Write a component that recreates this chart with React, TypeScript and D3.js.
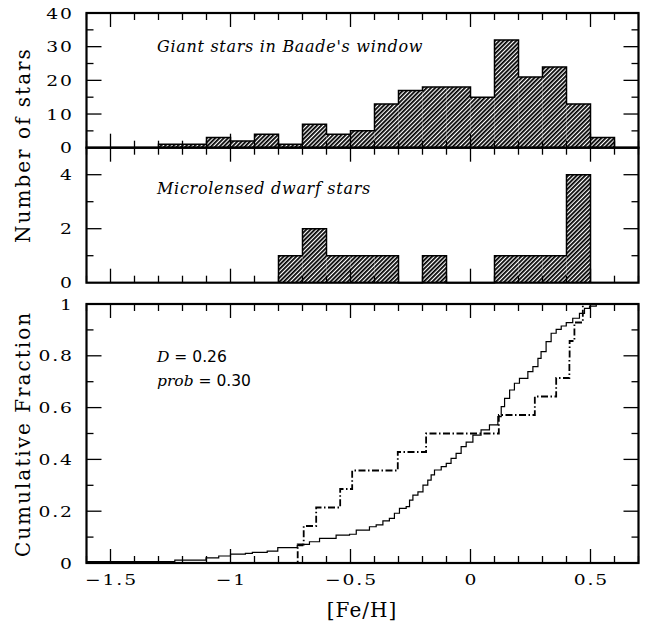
import React, { useRef, useEffect } from "react";
import * as d3 from "d3";

// giant stars, histogram in 0.1 dex bins (left edges)
const giantBins = [-1.3, -1.2, -1.1, -1.0, -0.9, -0.8, -0.7, -0.6, -0.5, -0.4, -0.3, -0.2, -0.1, 0.0, 0.1, 0.2, 0.3, 0.4, 0.5];
const giantCounts = [1, 1, 3, 2, 4, 1, 7, 4, 5, 13, 17, 18, 18, 15, 32, 21, 24, 13, 3];

// microlensed dwarfs
const dwarfBins = [-0.8, -0.7, -0.6, -0.5, -0.4, -0.3, -0.2, -0.1, 0.0, 0.1, 0.2, 0.3, 0.4];
const dwarfCounts = [1, 2, 1, 1, 1, 0, 1, 0, 0, 1, 1, 1, 4];
const dwarfFeH = [-0.72, -0.695, -0.643, -0.543, -0.493, -0.303, -0.185, 0.118, 0.268, 0.357, 0.412, 0.413, 0.433, 0.468];

// cumulative curve of the giants
const giantCdfFeH = [
  -1.6, -1.232, -1.102, -1.049, -1.0, -0.938, -0.909, -0.847, -0.803, -0.722, -0.699, -0.671, -0.629,
  -0.56, -0.504, -0.476, -0.421, -0.393, -0.365, -0.338, -0.317, -0.296, -0.268, -0.254, -0.24, -0.219,
  -0.198, -0.178, -0.164, -0.15, -0.122, -0.101, -0.081, -0.06, -0.039, -0.018, 0.01, 0.044, 0.079,
  0.114, 0.128, 0.142, 0.163, 0.183, 0.204, 0.239, 0.26, 0.281, 0.294, 0.315, 0.336, 0.357, 0.378,
  0.399, 0.426, 0.454, 0.475, 0.496, 0.524, 0.55, 0.6,
];
const giantCdfFrac = [
  0.005, 0.011, 0.02, 0.027, 0.034, 0.037, 0.041, 0.046, 0.059, 0.067, 0.072, 0.082, 0.095,
  0.108, 0.111, 0.127, 0.14, 0.147, 0.163, 0.172, 0.192, 0.211, 0.218, 0.243, 0.262, 0.275,
  0.301, 0.32, 0.34, 0.359, 0.372, 0.385, 0.404, 0.423, 0.449, 0.467, 0.494, 0.514, 0.533,
  0.565, 0.604, 0.636, 0.668, 0.694, 0.713, 0.739, 0.758, 0.79, 0.816, 0.855, 0.887, 0.902, 0.915,
  0.928, 0.945, 0.964, 0.983, 0.992, 0.998, 1.0, 1.0,
];

const xTicks = [-1.5, -1, -0.5, 0, 0.5];
const xTickLabels = ["−1.5", "−1", "−0.5", "0", "0.5"];
const countTicks = [0, 10, 20, 30, 40];
const dwarfTicks = [0, 2, 4];
const fracTicks = [0, 0.2, 0.4, 0.6, 0.8, 1];
const fracTickLabels = ["0", "0.2", "0.4", "0.6", "0.8", "1"];

const W = 653;
const H = 626;
const SERIF = "'DejaVu Serif', serif";
const LS = 1.5; // tick label letter spacing
const SX = 1.25; // tick labels are drawn wide

const App = () => {
  const svgRef = useRef<SVGSVGElement>(null);

  useEffect(() => {
    const svg = d3.select(svgRef.current);
    svg.selectAll("*").remove();

    const x = d3.scaleLinear().domain([-1.6, 0.7]).range([86.5, 638.5]);
    const yTop = d3.scaleLinear().domain([0, 40]).range([147.7, 13]);
    const yMid = d3.scaleLinear().domain([0, 5]).range([282.7, 147.7]);
    const yBot = d3.scaleLinear().domain([0, 1]).range([563, 304]);

    const defs = svg.append("defs");
    const pat = defs
      .append("pattern")
      .attr("id", "hatch")
      .attr("patternUnits", "userSpaceOnUse")
      .attr("width", 3)
      .attr("height", 3)
      .attr("patternTransform", "rotate(45)");
    pat.append("rect").attr("width", 3).attr("height", 3).attr("fill", "#fff");
    pat.append("line").attr("x1", 0.9).attr("y1", 0).attr("x2", 0.9).attr("y2", 3)
      .attr("stroke", "#000").attr("stroke-width", 1.8);

    const drawHist = (lefts: number[], counts: number[], y: d3.ScaleLinear<number, number>) => {
      const g = svg.append("g");
      g.selectAll("rect")
        .data(counts)
        .enter()
        .append("rect")
        .attr("x", (d, i) => x(lefts[i]))
        .attr("width", (d, i) => x(lefts[i] + 0.1) - x(lefts[i]))
        .attr("y", (d) => y(d))
        .attr("height", (d) => y(0) - y(d))
        .attr("fill", "url(#hatch)");
      const pts: [number, number][] = [[lefts[0], 0]];
      counts.forEach((c, i) => pts.push([lefts[i], c]));
      pts.push([lefts[lefts.length - 1] + 0.1, 0]);
      const line = d3
        .line<[number, number]>()
        .x((d) => x(d[0]))
        .y((d) => y(d[1]))
        .curve(d3.curveStepAfter);
      g.append("path")
        .attr("d", line(pts))
        .attr("fill", "none")
        .attr("stroke", "#000")
        .attr("stroke-width", 1.5);
    };

    drawHist(giantBins, giantCounts, yTop);
    drawHist(dwarfBins, dwarfCounts, yMid);

    // cumulative curves
    const cdfLine = d3
      .line<[number, number]>()
      .x((d) => x(d[0]))
      .y((d) => yBot(d[1]))
      .curve(d3.curveStepAfter);
    const giantPts = giantCdfFeH.map((v, i) => [v, giantCdfFrac[i]] as [number, number]);
    svg.append("path")
      .attr("d", cdfLine(giantPts))
      .attr("fill", "none")
      .attr("stroke", "#000")
      .attr("stroke-width", 1.2);

    const n = dwarfFeH.length;
    const dwarfPts: [number, number][] = [[-1.6, 0]];
    dwarfFeH.forEach((v, i) => dwarfPts.push([v, (i + 1) / n]));
    svg.append("path")
      .attr("d", cdfLine(dwarfPts))
      .attr("fill", "none")
      .attr("stroke", "#000")
      .attr("stroke-width", 1.8)
      .attr("stroke-dasharray", "7,2.5,1.5,2.5");

    // frames + ticks
    const xMinor = d3.range(-16, 8).map((i) => i / 10);
    const panel = (
      y: d3.ScaleLinear<number, number>,
      yMinor: number[],
      yMajor: number[]
    ) => {
      const g = svg.append("g").attr("stroke", "#000");
      const [y0, y1] = y.range();
      const [xa, xb] = x.range();
      xMinor.forEach((v) => {
        const major = xTicks.some((t) => Math.abs(t - v) < 1e-6);
        const len = major ? 14 : 7;
        g.append("line").attr("x1", x(v)).attr("x2", x(v)).attr("y1", y0).attr("y2", y0 - len).attr("stroke-width", 1.3);
        g.append("line").attr("x1", x(v)).attr("x2", x(v)).attr("y1", y1).attr("y2", y1 + len).attr("stroke-width", 1.3);
      });
      yMinor.forEach((v) => {
        const major = yMajor.some((t) => Math.abs(t - v) < 1e-6);
        const len = major ? 15 : 7;
        g.append("line").attr("x1", xa).attr("x2", xa + len).attr("y1", y(v)).attr("y2", y(v)).attr("stroke-width", 1.3);
        g.append("line").attr("x1", xb).attr("x2", xb - len).attr("y1", y(v)).attr("y2", y(v)).attr("stroke-width", 1.3);
      });
      g.append("rect")
        .attr("x", xa)
        .attr("y", y1)
        .attr("width", xb - xa)
        .attr("height", y0 - y1)
        .attr("fill", "none")
        .attr("stroke-width", 2.2);
    };
    panel(yTop, d3.range(5, 40, 5), countTicks);
    panel(yMid, [1, 2, 3, 4], dwarfTicks);
    panel(yBot, d3.range(1, 10).map((i) => i / 10), fracTicks);

    // tick labels (wide, like the plotting package's roman font)
    const tickText = (tx: number, ty: number, s: string, anchor: string) =>
      svg.append("text")
        .attr("transform", `translate(${tx},${ty}) scale(${SX},1)`)
        .attr("text-anchor", anchor)
        .attr("font-family", SERIF)
        .attr("font-size", 15)
        .attr("letter-spacing", LS)
        .text(s);

    const yLab = (y: d3.ScaleLinear<number, number>, vals: number[], labs: string[]) =>
      vals.forEach((v, i) => tickText(72 + LS * SX, y(v) + 5.5, labs[i], "end"));
    yLab(yTop, countTicks, countTicks.map(String));
    yLab(yMid, dwarfTicks, dwarfTicks.map(String));
    yLab(yBot, fracTicks, fracTickLabels);

    xTicks.forEach((v, i) => tickText(x(v) + (LS * SX) / 2, 585, xTickLabels[i], "middle"));

    // axis titles
    svg.append("text")
      .attr("x", 362)
      .attr("y", 617)
      .attr("text-anchor", "middle")
      .attr("font-family", SERIF)
      .attr("font-size", 20)
      .attr("letter-spacing", 1)
      .text("[Fe/H]");
    svg.append("text")
      .attr("transform", "translate(30,145) rotate(-90)")
      .attr("text-anchor", "middle")
      .attr("font-family", SERIF)
      .attr("font-size", 20)
      .attr("letter-spacing", 2)
      .text("Number of stars");
    svg.append("text")
      .attr("transform", "translate(30,434) rotate(-90)")
      .attr("text-anchor", "middle")
      .attr("font-family", SERIF)
      .attr("font-size", 20)
      .attr("letter-spacing", 2)
      .text("Cumulative Fraction");

    // annotations
    const note = (tx: string, ty: number) =>
      svg.append("text")
        .attr("x", 157)
        .attr("y", ty)
        .attr("font-family", SERIF)
        .attr("font-style", "italic")
        .attr("font-size", 16)
        .attr("letter-spacing", 0.7)
        .text(tx);
    note("Giant stars in Baade's window", 52);
    note("Microlensed dwarf stars", 194);

    const stat = (name: string, val: string, ty: number) => {
      const t = svg.append("text").attr("x", 157).attr("y", ty).attr("font-size", 15.5);
      t.append("tspan").attr("font-family", SERIF).attr("font-style", "italic").text(name);
      t.append("tspan").attr("font-family", "'DejaVu Sans', sans-serif").text(" = " + val);
    };
    stat("D", "0.26", 362);
    stat("prob", "0.30", 386);
  }, []);

  return (
    <svg
      ref={svgRef}
      width={W}
      height={H}
      style={{ position: "absolute", left: 0, top: 0, background: "#fff" }}
    />
  );
};

export default App;
